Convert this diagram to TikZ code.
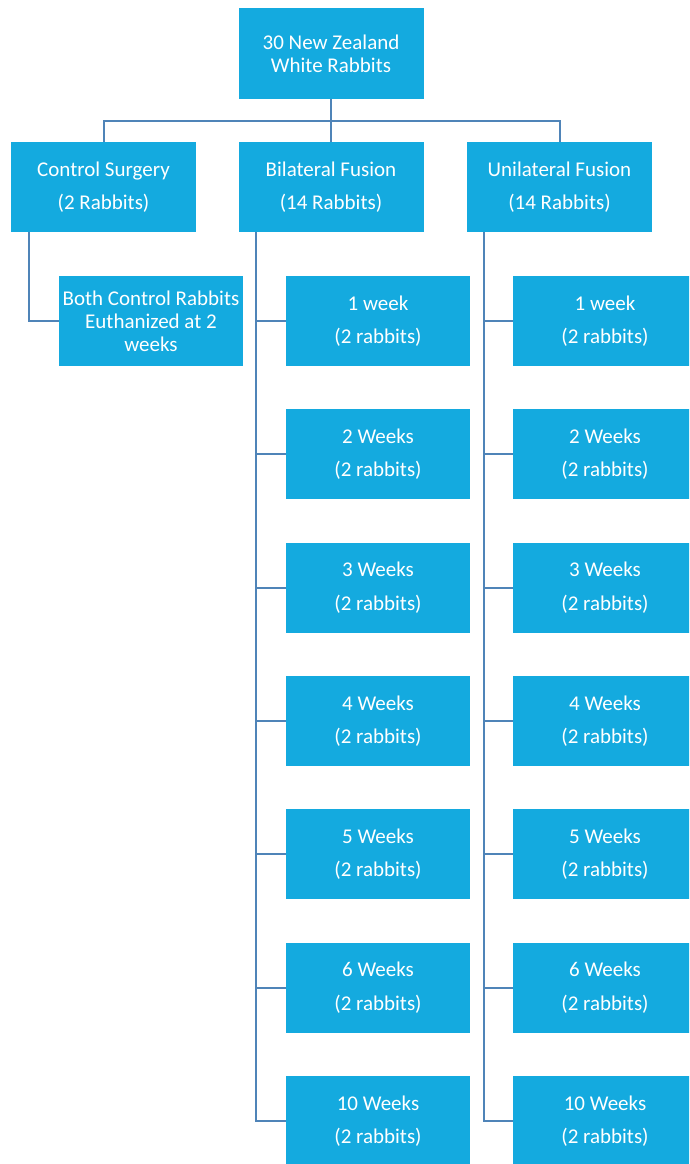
\documentclass[tikz,border=0pt]{standalone}
\usepackage{fontspec}
\setmainfont{Carlito}
\definecolor{boxblue}{HTML}{14AADF}
\definecolor{linkblue}{HTML}{4F84B8}
\tikzset{
  box/.style={fill=boxblue, text=white, minimum width=185pt, minimum height=90pt,
    inner sep=0pt, align=center, font=\fontsize{21}{33.5}\selectfont},
  tightbox/.style={box, font=\fontsize{21}{23}\selectfont},
  link/.style={draw=linkblue, line width=2pt}
}
\begin{document}
\begin{tikzpicture}[x=1pt,y=-1pt]
\clip (0,0) rectangle (689,1164);
\fill[white] (0,0) rectangle (689,1164);
\node[tightbox] (top) at (331,53.5) {30 New Zealand\\White Rabbits};
\node[box] (ctrl) at (103.5,187) {Control Surgery\\(2 Rabbits)};
\node[box] (bil) at (331,187) {Bilateral Fusion\\(14 Rabbits)};
\node[box] (uni) at (559.5,187) {Unilateral Fusion\\(14 Rabbits)};
\node[tightbox, minimum width=184pt] (cc) at (151,321) {Both Control Rabbits\\Euthanized at 2\\weeks};
\foreach \i/\t in {1/1 week,2/2 Weeks,3/3 Weeks,4/4 Weeks,5/5 Weeks,6/6 Weeks,7/10 Weeks}{
  \node[box, minimum width=184pt] (b\i) at (378,{321+133.33*(\i-1)}) {\t\\(2 rabbits)};
  \node[box, minimum width=184pt] (u\i) at (605,{321+133.33*(\i-1)}) {\t\\(2 rabbits)};
}
\coordinate (hub) at (331,121);
\draw[link] (top.south) -- (hub) -- (bil.north);
\draw[link] (ctrl.north) |- (hub) -| (uni.north);
\draw[link] ([xshift=-74.5pt]ctrl.south) |- (cc.west);
\coordinate (bs) at ([xshift=-75pt]bil.south);
\coordinate (us) at ([xshift=-75.5pt]uni.south);
\draw[link] (bs) |- (b7.west);
\draw[link] (us) |- (u7.west);
\foreach \i in {1,...,6}{
  \draw[link] (b\i.west) -- (b\i.west -| bs);
  \draw[link] (u\i.west) -- (u\i.west -| us);
}
\end{tikzpicture}
\end{document}
